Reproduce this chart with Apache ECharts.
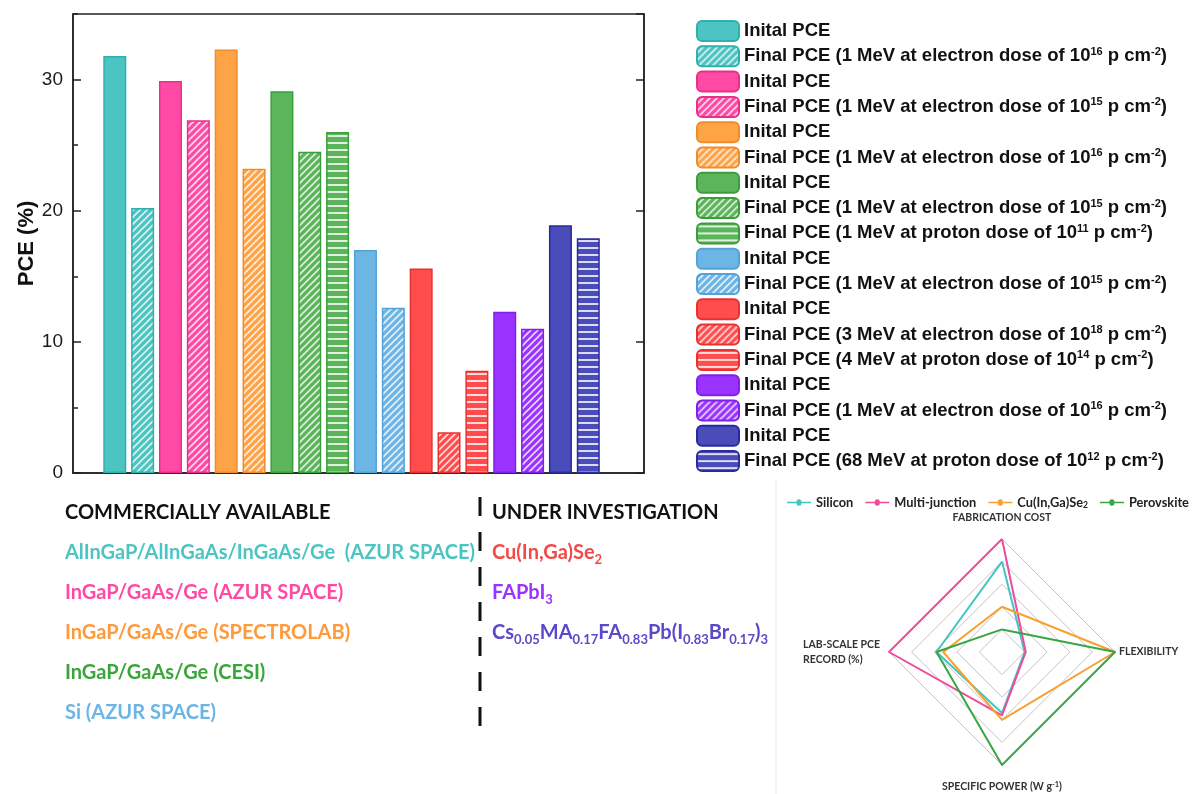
<!DOCTYPE html>
<html>
<head>
<meta charset="utf-8">
<title>PCE of space solar cells</title>
<script src="https://cdn.jsdelivr.net/npm/echarts@6/dist/echarts.min.js"></script>
<style>
  html, body { margin: 0; padding: 0; background: #fff; }
  #main { width: 1199px; height: 794px; }
</style>
</head>
<body>
<div id="main"></div>
<script>
// bar chart data, one bar per entry, in drawing order
const barLabels = [
  'Inital PCE',
  'Final PCE (1 MeV at electron dose of 10{s|16} p cm{s|-2})',
  'Inital PCE',
  'Final PCE (1 MeV at electron dose of 10{s|15} p cm{s|-2})',
  'Inital PCE',
  'Final PCE (1 MeV at electron dose of 10{s|16} p cm{s|-2})',
  'Inital PCE',
  'Final PCE (1 MeV at electron dose of 10{s|15} p cm{s|-2})',
  'Final PCE (1 MeV at proton dose of 10{s|11} p cm{s|-2})',
  'Inital PCE',
  'Final PCE (1 MeV at electron dose of 10{s|15} p cm{s|-2})',
  'Inital PCE',
  'Final PCE (3 MeV at electron dose of 10{s|18} p cm{s|-2})',
  'Final PCE (4 MeV at proton dose of 10{s|14} p cm{s|-2})',
  'Inital PCE',
  'Final PCE (1 MeV at electron dose of 10{s|16} p cm{s|-2})',
  'Inital PCE',
  'Final PCE (68 MeV at proton dose of 10{s|12} p cm{s|-2})'
];
const barValues = [31.8, 20.2, 29.9, 26.9, 32.3, 23.2, 29.1, 24.5, 26.0, 17.0, 12.6, 15.6, 3.1, 7.8, 12.3, 11.0, 18.9, 17.9];
const barDevice = [0, 0, 1, 1, 2, 2, 3, 3, 3, 4, 4, 5, 5, 5, 6, 6, 7, 7];
const barFill = ['solid', 'diag', 'solid', 'diag', 'solid', 'diag', 'solid', 'diag', 'horiz',
  'solid', 'diag', 'solid', 'diag', 'horiz', 'solid', 'diag', 'solid', 'horiz'];

// device names (text under the bar chart)
const commercialDevices = [
  'AlInGaP/AlInGaAs/InGaAs/Ge  (AZUR SPACE)',
  'InGaP/GaAs/Ge (AZUR SPACE)',
  'InGaP/GaAs/Ge (SPECTROLAB)',
  'InGaP/GaAs/Ge (CESI)',
  'Si (AZUR SPACE)'
];
const researchDevices = [
  'Cu(In,Ga)Se{sub|2}',
  'FAPbI{sub|3}',
  'Cs{sub|0.05}MA{sub|0.17}FA{sub|0.83}Pb(I{sub|0.83}Br{sub|0.17}){sub|3}'
];

// radar data
const radarAxes = ['FABRICATION COST', 'LAB-SCALE PCE\nRECORD (%)', 'SPECIFIC POWER (W g{sp|-1})', 'FLEXIBILITY'];
const radarNames = ['Silicon', 'Multi-junction', 'Cu(In,Ga)Se2', 'Perovskite'];
const silicon = [4, 2.9, 2.7, 1];
const multiJunction = [5, 5, 2.8, 1.05];
const cigs = [2, 2.6, 3, 5];
const perovskite = [1, 2.9, 5, 5];

const deviceColors = ['#4cc4c2', '#ff4aa5', '#ffa347', '#5cb55a', '#6db5e5', '#ff4c4c', '#9a33ff', '#4a4cb9'];
const deviceBorders = ['#2eb0ad', '#e8308a', '#f08c2a', '#3a9e3a', '#53a2d8', '#e83232', '#8020e8', '#2a2aa0'];
const textColors = ['#4cc4c2', '#ff4aa5', '#ff9a3c', '#3aa63a', '#6db5e5', '#f24a4a', '#9a33ff', '#5a4ac8'];
const radarColors = ['#45c4c4', '#ee4c9b', '#f7a032', '#3aa545'];

function pattern(color, kind) {
  const s = 7;
  const c = document.createElement('canvas');
  c.width = s; c.height = s;
  const g = c.getContext('2d');
  g.fillStyle = color;
  g.fillRect(0, 0, s, s);
  g.strokeStyle = 'rgba(255,255,255,0.8)';
  g.fillStyle = 'rgba(255,255,255,0.8)';
  g.lineWidth = 1.6;
  if (kind === 'diag') {
    g.beginPath();
    g.moveTo(-1, s + 1); g.lineTo(s + 1, -1);
    g.moveTo(-1, 1); g.lineTo(1, -1);
    g.moveTo(s - 1, s + 1); g.lineTo(s + 1, s - 1);
    g.stroke();
  } else {
    g.fillRect(0, 2, s, 2);
  }
  return { image: c, repeat: 'repeat' };
}

const barSeries = barValues.map((v, i) => {
  const d = barDevice[i];
  return {
    type: 'bar',
    name: 'b' + i,
    xAxisIndex: 0,
    yAxisIndex: 0,
    barWidth: 23,
    barGap: '-100%',
    data: [[i + 1, v]],
    emphasis: { disabled: true },
    itemStyle: {
      color: barFill[i] === 'solid' ? deviceColors[d] : pattern(deviceColors[d], barFill[i]),
      borderColor: deviceBorders[d],
      borderWidth: 1.5
    }
  };
});

const radarSeries = {
  type: 'radar',
  radarIndex: 0,
  symbol: 'none',
  emphasis: { disabled: true },
  data: [silicon, multiJunction, cigs, perovskite].map((vals, i) => ({
    name: radarNames[i],
    value: vals,
    lineStyle: { color: radarColors[i], width: 2 },
    itemStyle: { color: radarColors[i] }
  }))
};

const font = 'Lato';
function label(x, y, text, color) {
  return {
    type: 'text', x: x, y: y,
    style: {
      text: text, fill: color, fontFamily: font, fontWeight: 'bold', fontSize: 20,
      lineHeight: 26, verticalAlign: 'middle',
      rich: { sub: { fontFamily: font, fontWeight: 'bold', fontSize: 13, fill: color, verticalAlign: 'bottom', lineHeight: 13 } }
    }
  };
}
const graphics = [
  label(65, 513, 'COMMERCIALLY AVAILABLE', '#111'),
  label(492, 513, 'UNDER INVESTIGATION', '#111'),
  {
    type: 'line', shape: { x1: 480, y1: 497, x2: 480, y2: 742 },
    style: { stroke: '#111', lineWidth: 3, lineDash: [19, 16] }
  },
  {
    type: 'line', shape: { x1: 776, y1: 480, x2: 776, y2: 794 },
    style: { stroke: '#ececec', lineWidth: 1 }
  }
];
commercialDevices.forEach((t, i) => graphics.push(label(65, 553 + i * 40, t, textColors[i])));
researchDevices.forEach((t, i) => graphics.push(label(492, 553 + i * 40, t, textColors[5 + i])));

const axisColor = '#222';
const chart = echarts.init(document.getElementById('main'));
chart.setOption({
  animation: false,
  backgroundColor: '#fff',
  grid: {
    left: 73, top: 14, width: 571, height: 459,
    show: true, borderColor: axisColor, borderWidth: 1.5
  },
  xAxis: {
    type: 'value', min: -0.5, max: 20,
    axisLine: { show: true, onZero: false, lineStyle: { color: axisColor, width: 1.5 } },
    axisTick: { show: false }, axisLabel: { show: false }, splitLine: { show: false }
  },
  yAxis: [
    {
      type: 'value', min: 0, max: 35, interval: 10, position: 'left',
      name: 'PCE (%)', nameLocation: 'middle', nameGap: 32,
      nameTextStyle: { fontFamily: 'Liberation Sans', fontWeight: 'bold', fontSize: 22, color: '#111' },
      axisLine: { show: true, onZero: false, lineStyle: { color: axisColor, width: 1.5 } },
      axisTick: { show: true, inside: true, length: 8, lineStyle: { color: axisColor, width: 1.5 } },
      axisLabel: { show: true, showMaxLabel: false, margin: 10, fontFamily: 'Liberation Sans', fontSize: 19, color: '#1a1a1a' },
      splitLine: { show: false }
    },
    {
      type: 'value', min: 0, max: 35, interval: 5, position: 'left',
      axisLine: { show: false, onZero: false },
      axisTick: { show: true, inside: true, length: 5, lineStyle: { color: axisColor, width: 1.5 } },
      axisLabel: { show: false }, splitLine: { show: false }
    },
    {
      type: 'value', min: 0, max: 35, interval: 10, position: 'right',
      axisLine: { show: true, onZero: false, lineStyle: { color: axisColor, width: 1.5 } },
      axisTick: { show: true, inside: true, length: 8, lineStyle: { color: axisColor, width: 1.5 } },
      axisLabel: { show: false }, splitLine: { show: false }
    }
  ],
  legend: [
    {
      data: barSeries.map(s => s.name),
      orient: 'vertical', left: 696, top: 20, padding: 0,
      itemWidth: 42, itemHeight: 20, itemGap: 3.3,
      icon: 'roundRect', selectedMode: false,
      formatter: n => barLabels[Number(n.slice(1))],
      textStyle: {
        fontFamily: 'Liberation Sans', fontWeight: 'bold', fontSize: 18.5, color: '#111', lineHeight: 20,
        rich: {
          s: { fontFamily: 'Liberation Sans', fontWeight: 'bold', fontSize: 11, color: '#111', verticalAlign: 'top', lineHeight: 12 }
        }
      }
    },
    {
      data: radarNames,
      orient: 'horizontal', left: 787, top: 495, width: 412, padding: 0,
      itemWidth: 24, itemHeight: 8, itemGap: 12,
      icon: 'path://M0,4.2H9.5A2.5,2.5,0,0,1,14.5,4.2H24V5.8H14.5A2.5,2.5,0,0,1,9.5,5.8H0Z',
      selectedMode: false,
      formatter: n => n === 'Cu(In,Ga)Se2' ? 'Cu(In,Ga)Se{sb|2}' : n,
      textStyle: {
        fontFamily: font, fontWeight: 'bold', fontSize: 12.8, color: '#222', lineHeight: 15,
        rich: { sb: { fontFamily: font, fontWeight: 'bold', fontSize: 8.5, color: '#222', verticalAlign: 'bottom', lineHeight: 9 } }
      }
    }
  ],
  radar: {
    center: [1002, 652], radius: 113, startAngle: 90,
    shape: 'polygon', splitNumber: 5, nameGap: 4,
    indicator: radarAxes.map(n => ({ name: n, min: 0, max: 5 })),
    axisName: {
      color: '#333', fontFamily: font, fontWeight: 'bold', fontSize: 10.5, padding: [12, 0, 12, 0],
      formatter: v => v.indexOf('LAB') === 0 ? '{l|' + v + '}' : v,
      rich: {
        l: { width: 82, align: 'left', color: '#333', fontFamily: font, fontWeight: 'bold', fontSize: 10.5, lineHeight: 15 },
        sp: { color: '#333', fontFamily: font, fontWeight: 'bold', fontSize: 7.5, verticalAlign: 'top', lineHeight: 8 }
      }
    },
    splitLine: { lineStyle: { color: '#c4c4c4', width: 1 } },
    splitArea: { show: false },
    axisLine: { show: false }
  },
  series: barSeries.concat([radarSeries]),
  graphic: graphics
});
</script>
</body>
</html>
